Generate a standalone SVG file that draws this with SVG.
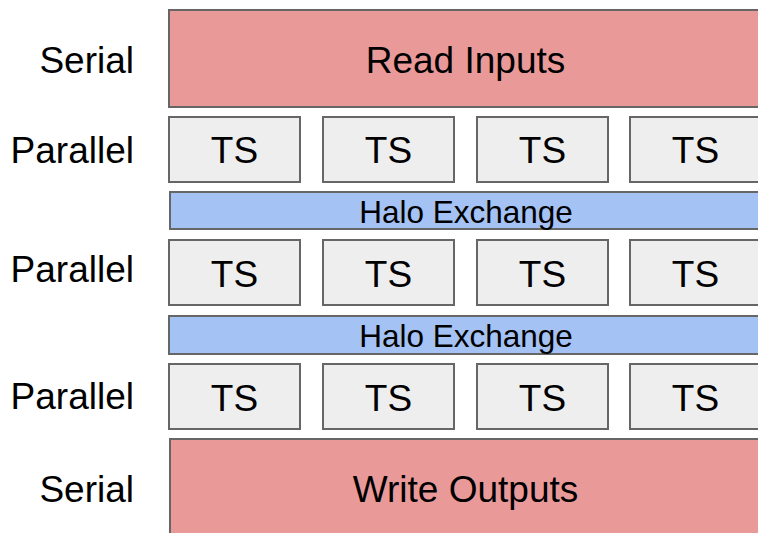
<svg xmlns="http://www.w3.org/2000/svg" width="758" height="533" viewBox="0 0 758 533">
<style>
.lbl{font-family:"Liberation Sans",Arial,sans-serif;font-size:37px;fill:#000;}
.side{text-anchor:end;}
.mid{text-anchor:middle;}
.halo{font-family:"Liberation Sans",Arial,sans-serif;font-size:31.5px;fill:#000;text-anchor:middle;}
.red{fill:#ea9999;stroke:#666;stroke-width:2;}
.ts{fill:#eeeeee;stroke:#666;stroke-width:2;}
.blue{fill:#a4c2f4;stroke:#666;stroke-width:2;}
</style>
<rect width="758" height="533" fill="#fff"/>
<g id="labels">
<text class="lbl side" x="134" y="73">Serial</text>
<text class="lbl side" x="134" y="163">Parallel</text>
<text class="lbl side" x="134" y="282">Parallel</text>
<text class="lbl side" x="134" y="409">Parallel</text>
<text class="lbl side" x="134" y="502">Serial</text>
</g>
<g id="read-inputs">
<rect class="red" x="169" y="10" width="600" height="97"/>
<text class="lbl mid" x="465.5" y="73">Read Inputs</text>
</g>
<g id="row1">
<g id="ts-1-1"><rect class="ts" x="169" y="117" width="131" height="65"/><text class="lbl mid" x="234.5" y="163">TS</text></g>
<g id="ts-1-2"><rect class="ts" x="323" y="117" width="131" height="65"/><text class="lbl mid" x="388.5" y="163">TS</text></g>
<g id="ts-1-3"><rect class="ts" x="477" y="117" width="131" height="65"/><text class="lbl mid" x="542.5" y="163">TS</text></g>
<g id="ts-1-4"><rect class="ts" x="630" y="117" width="131" height="65"/><text class="lbl mid" x="695.5" y="163">TS</text></g>
</g>
<g id="halo-1">
<rect class="blue" x="170" y="192" width="600" height="37"/>
<text class="halo" x="466" y="222.5">Halo Exchange</text>
</g>
<g id="row2">
<g id="ts-2-1"><rect class="ts" x="169" y="240" width="131" height="65"/><text class="lbl mid" x="234.5" y="287">TS</text></g>
<g id="ts-2-2"><rect class="ts" x="323" y="240" width="131" height="65"/><text class="lbl mid" x="388.5" y="287">TS</text></g>
<g id="ts-2-3"><rect class="ts" x="477" y="240" width="131" height="65"/><text class="lbl mid" x="542.5" y="287">TS</text></g>
<g id="ts-2-4"><rect class="ts" x="630" y="240" width="131" height="65"/><text class="lbl mid" x="695.5" y="287">TS</text></g>
</g>
<g id="halo-2">
<rect class="blue" x="169" y="316" width="600" height="38"/>
<text class="halo" x="466" y="346.5">Halo Exchange</text>
</g>
<g id="row3">
<g id="ts-3-1"><rect class="ts" x="169" y="364" width="131" height="65"/><text class="lbl mid" x="234.5" y="411">TS</text></g>
<g id="ts-3-2"><rect class="ts" x="323" y="364" width="131" height="65"/><text class="lbl mid" x="388.5" y="411">TS</text></g>
<g id="ts-3-3"><rect class="ts" x="477" y="364" width="131" height="65"/><text class="lbl mid" x="542.5" y="411">TS</text></g>
<g id="ts-3-4"><rect class="ts" x="630" y="364" width="131" height="65"/><text class="lbl mid" x="695.5" y="411">TS</text></g>
</g>
<g id="write-outputs">
<rect class="red" x="170" y="439" width="600" height="110"/>
<text class="lbl mid" x="465.5" y="502">Write Outputs</text>
</g>
<g id="connectors"></g>
</svg>
